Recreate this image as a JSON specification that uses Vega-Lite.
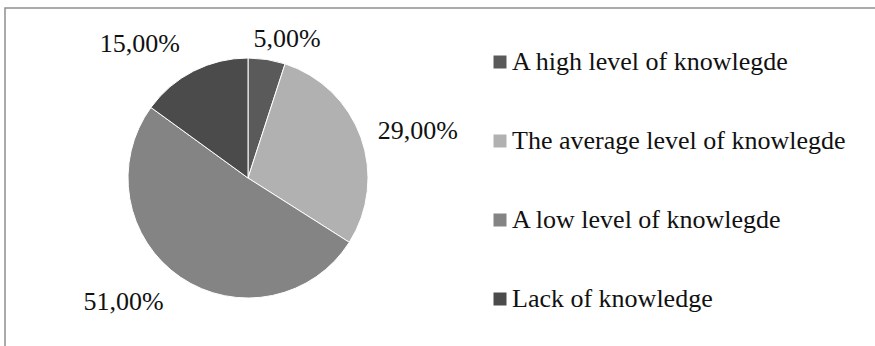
{
  "$schema": "https://vega.github.io/schema/vega-lite/v6.json",
  "width": 880,
  "height": 345,
  "padding": {"left": 5, "top": 8, "right": 0, "bottom": 0},
  "autosize": {"type": "none"},
  "background": "white",
  "view": {"stroke": "#8f8f8f", "strokeWidth": 1.5, "fill": "white"},
  "config": {
    "locale": {
      "number": {"decimal": ",", "thousands": ".", "grouping": [3], "currency": ["", " €"]}
    }
  },
  "data": {
    "values": [
      {"level": "A high level of knowlegde", "share": 0.05, "rank": 1},
      {"level": "The average level of knowlegde", "share": 0.29, "rank": 2},
      {"level": "A low level of knowlegde", "share": 0.51, "rank": 3},
      {"level": "Lack of knowledge", "share": 0.15, "rank": 4}
    ]
  },
  "encoding": {
    "theta": {"field": "share", "type": "quantitative", "stack": true},
    "order": {"field": "rank", "type": "quantitative"},
    "color": {
      "field": "level",
      "type": "nominal",
      "sort": null,
      "scale": {
        "domain": ["A high level of knowlegde", "The average level of knowlegde", "A low level of knowlegde", "Lack of knowledge"],
        "range": ["#5a5a5a", "#b1b1b1", "#848484", "#4b4b4b"]
      },
      "legend": {
        "orient": "none",
        "legendX": 482,
        "legendY": 41,
        "title": null,
        "symbolType": "square",
        "symbolSize": 169,
        "symbolStrokeWidth": 0,
        "labelFont": "Liberation Serif",
        "labelFontSize": 26,
        "labelColor": "#111111",
        "labelLimit": 500,
        "labelOffset": -1,
        "rowPadding": 53,
        "padding": 0
      }
    }
  },
  "layer": [
    {
      "mark": {"type": "arc", "x": 243, "y": 170, "outerRadius": 120, "stroke": "white", "strokeWidth": 1}
    },
    {
      "mark": {"type": "text", "x": 243, "y": 170, "radius": 138, "align": "left", "baseline": "middle", "dx": -16, "dy": -3, "font": "Liberation Serif", "fontSize": 26},
      "encoding": {
        "color": {"value": "#111111"},
        "detail": {"field": "level"},
        "text": {"condition": {"test": "datum.rank == 1", "field": "share", "type": "quantitative", "format": ".2%"}, "value": ""}
      }
    },
    {
      "mark": {"type": "text", "x": 243, "y": 170, "radius": 138, "align": "left", "baseline": "middle", "font": "Liberation Serif", "fontSize": 26},
      "encoding": {
        "color": {"value": "#111111"},
        "detail": {"field": "level"},
        "text": {"condition": {"test": "datum.rank == 2", "field": "share", "type": "quantitative", "format": ".2%"}, "value": ""}
      }
    },
    {
      "mark": {"type": "text", "x": 243, "y": 170, "radius": 150, "align": "right", "baseline": "middle", "font": "Liberation Serif", "fontSize": 26},
      "encoding": {
        "color": {"value": "#111111"},
        "detail": {"field": "level"},
        "text": {"condition": {"test": "datum.rank >= 3", "field": "share", "type": "quantitative", "format": ".2%"}, "value": ""}
      }
    }
  ]
}
